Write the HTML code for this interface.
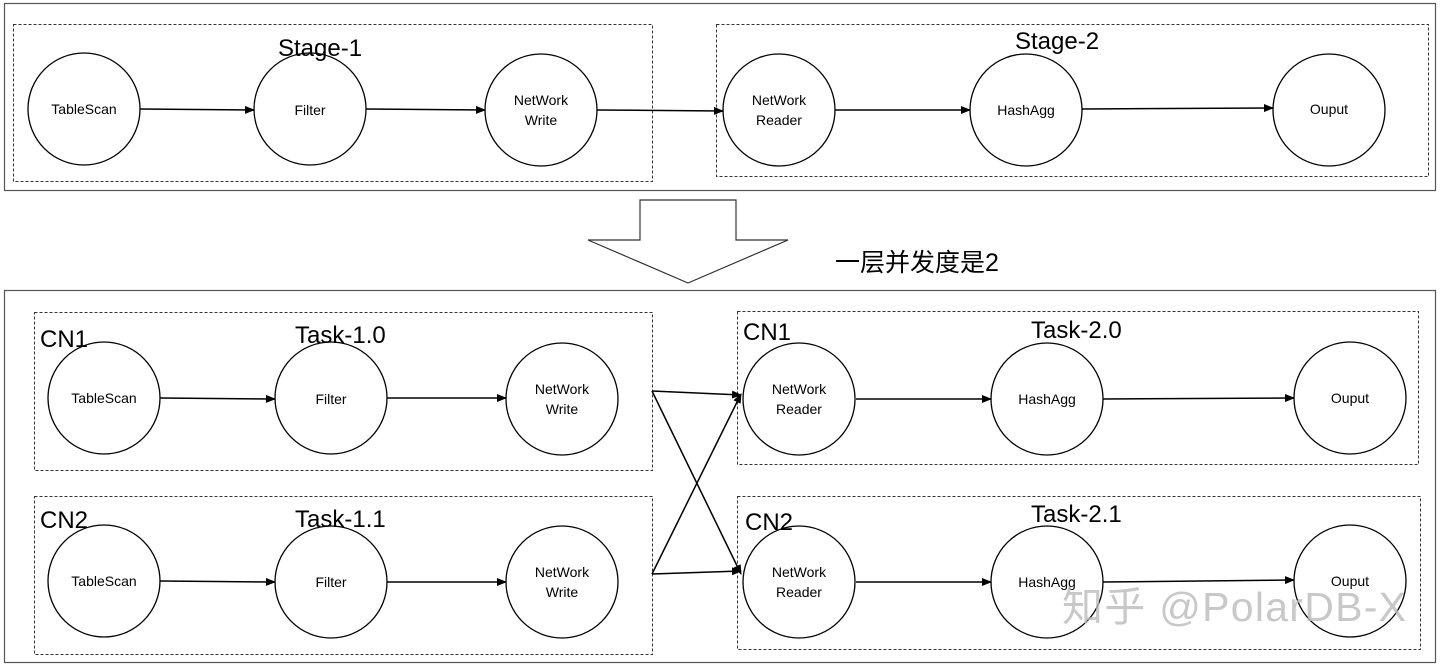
<!DOCTYPE html>
<html><head><meta charset="utf-8"><style>
body{margin:0;background:#fff;}
</style></head><body>
<svg width="1440" height="666" xmlns="http://www.w3.org/2000/svg" font-family="Liberation Sans, Noto Sans CJK SC, sans-serif">
<defs><marker id="a" markerWidth="10" markerHeight="8" refX="9" refY="4" orient="auto" markerUnits="userSpaceOnUse"><path d="M0,0 L10,4 L0,8 z" fill="#000"/></marker></defs>
<rect x="4.5" y="3.5" width="1431" height="187" fill="none" stroke="#555" stroke-width="1.2"/>
<rect x="4.5" y="290.5" width="1431" height="372" fill="none" stroke="#555" stroke-width="1.2"/>
<g fill="none" stroke="#333" stroke-dasharray="3,2">
<rect x="13.5" y="24.5" width="639" height="157"/>
<rect x="716.5" y="24.5" width="712" height="152"/>
<rect x="34.5" y="312.5" width="618" height="158"/>
<rect x="34.5" y="496.5" width="618" height="158"/>
<rect x="737.5" y="311.5" width="681" height="153"/>
<rect x="737.5" y="496.5" width="683" height="153"/>
</g>
<g fill="#fff" stroke="#000" stroke-width="1.3">
<circle cx="84" cy="109" r="56"/><circle cx="310" cy="109" r="56"/><circle cx="541" cy="110" r="56"/>
<circle cx="779" cy="110" r="56"/><circle cx="1026" cy="110" r="56"/><circle cx="1329" cy="110" r="56"/>
<circle cx="104" cy="398" r="56"/><circle cx="331" cy="398" r="56"/><circle cx="562" cy="399" r="56"/>
<circle cx="799" cy="399" r="56"/><circle cx="1047" cy="399" r="56"/><circle cx="1350" cy="398" r="56"/>
<circle cx="104" cy="581" r="56"/><circle cx="331" cy="582" r="56"/><circle cx="562" cy="582" r="56"/>
<circle cx="799" cy="582" r="56"/><circle cx="1047" cy="582" r="56"/><circle cx="1350" cy="581" r="56"/>
</g>
<g font-size="24" fill="#000">
<text x="278" y="56">Stage-1</text><text x="1015" y="49">Stage-2</text>
<text x="40" y="347">CN1</text><text x="295" y="343">Task-1.0</text>
<text x="40" y="528">CN2</text><text x="295" y="527">Task-1.1</text>
<text x="743" y="340">CN1</text><text x="1031" y="338">Task-2.0</text>
<text x="745" y="530">CN2</text><text x="1031" y="522">Task-2.1</text>
</g>
<g font-size="14" fill="#000" text-anchor="middle">
<text x="84" y="114">TableScan</text><text x="310" y="115">Filter</text><text x="541" y="105">NetWork</text><text x="541" y="125">Write</text>
<text x="779" y="105">NetWork</text><text x="779" y="125">Reader</text><text x="1026" y="115">HashAgg</text><text x="1329" y="114">Ouput</text>
<text x="104" y="403">TableScan</text><text x="331" y="404">Filter</text><text x="562" y="394">NetWork</text><text x="562" y="414">Write</text>
<text x="799" y="394">NetWork</text><text x="799" y="414">Reader</text><text x="1047" y="404">HashAgg</text><text x="1350" y="403">Ouput</text>
<text x="104" y="586">TableScan</text><text x="331" y="587">Filter</text><text x="562" y="577">NetWork</text><text x="562" y="597">Write</text>
<text x="799" y="577">NetWork</text><text x="799" y="597">Reader</text><text x="1047" y="587">HashAgg</text><text x="1350" y="586">Ouput</text>
</g>
<g stroke="#000" stroke-width="1.5" marker-end="url(#a)">
<line x1="140" y1="109" x2="254" y2="110"/><line x1="366" y1="109" x2="485" y2="110"/><line x1="597" y1="110" x2="723" y2="111"/>
<line x1="835" y1="110" x2="970" y2="110"/><line x1="1082" y1="109" x2="1273" y2="108"/>
<line x1="160" y1="398" x2="275" y2="399"/><line x1="387" y1="398" x2="506" y2="398"/>
<line x1="856" y1="399" x2="991" y2="399"/><line x1="1103" y1="399" x2="1294" y2="398"/>
<line x1="160" y1="581" x2="275" y2="582"/><line x1="387" y1="582" x2="506" y2="582"/>
<line x1="856" y1="582" x2="991" y2="582"/><line x1="1103" y1="582" x2="1294" y2="580"/>
<line x1="652" y1="391" x2="741" y2="395"/><line x1="652" y1="391" x2="741" y2="574"/>
<line x1="652" y1="574" x2="741" y2="394"/><line x1="652" y1="574" x2="741" y2="571"/>
</g>
<path d="M640,200 L736,200 L736,240 L788,240 L688,283 L588,240 L640,240 Z" fill="#fff" stroke="#333" stroke-width="1.2"/>
<text x="835" y="271" font-size="25" fill="#000">一层并发度是2</text>
<text x="1062" y="621" font-size="41" fill="#bbb" opacity="0.8" textLength="344">知乎 @PolarDB-X</text>
</svg>
</body></html>
